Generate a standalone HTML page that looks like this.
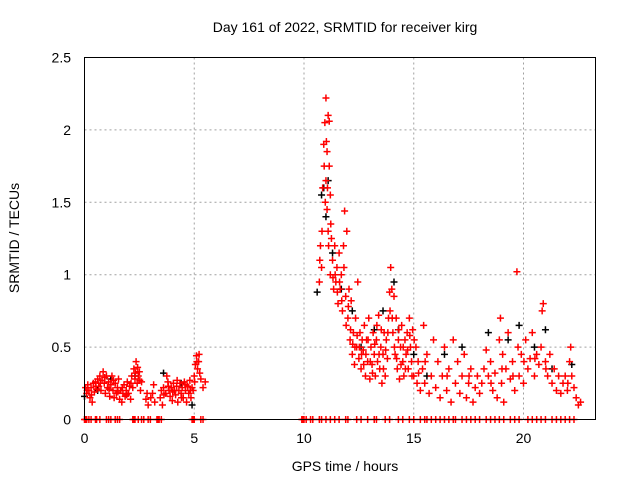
<!DOCTYPE html>
<html><head><meta charset="utf-8"><style>
body{margin:0;background:#fff}
svg{display:block}
text{font-family:"Liberation Sans",sans-serif;font-size:14px;fill:#000}
</style></head><body>
<svg id="chart" width="640" height="480">
<rect x="0" y="0" width="640" height="480" fill="#fff"/>
<text x="345" y="32" text-anchor="middle">Day 161 of 2022, SRMTID for receiver kirg</text>
<text x="345" y="471" text-anchor="middle">GPS time / hours</text>
<text transform="translate(19,238) rotate(-90)" text-anchor="middle">SRMTID / TECUs</text>
<g id="grid"></g>
<g id="ticks"></g>
<g id="black"></g>
<g id="red"></g>
<rect x="84.5" y="57.5" width="511" height="362" fill="none" stroke="#000"/>
</svg>
<script>
const xTicks=[0,5,10,15,20];
const yTicks=[0,0.5,1,1.5,2,2.5];
const yTickLabels=["0","0.5","1","1.5","2","2.5"];
const redSeries=[[0.05,.22],[0.1,.18],[0.15,.24],[0.2,.2],[0.25,.15],[0.3,.22],[0.35,.12],[0.4,.25],[0.45,.19],[0.5,.26],[0.55,.21],[0.6,.28],[0.65,.23],[0.7,.3],[0.75,.2],[0.8,.27],[0.85,.33],[0.9,.25],[0.95,.18],[1.0,.3],[1.05,.22],[1.1,.26],[1.15,.16],[1.2,.24],[1.25,.3],[1.3,.2],[1.35,.15],[1.4,.25],[1.45,.18],[1.5,.22],[1.55,.28],[1.6,.14],[1.65,.2],[1.7,.12],[1.75,.18],[1.8,.24],[1.85,.16],[1.9,.2],[1.95,.26],[2.0,.18],[2.05,.23],[2.1,.14],[2.15,.3],[2.2,.22],[2.25,.35],[2.3,.28],[2.35,.4],[2.4,.25],[2.45,.3],[2.5,.33],[2.55,.2],[2.6,.26],[2.8,.14],[2.85,.18],[2.9,.1],[3.1,.18],[3.15,.24],[3.2,.12],[3.45,.15],[3.5,.2],[3.55,.1],[3.6,.22],[3.7,.18],[3.75,.3],[3.8,.26],[3.85,.2],[3.9,.16],[3.95,.22],[4.0,.13],[4.05,.25],[4.1,.2],[4.15,.17],[4.2,.23],[4.25,.12],[4.3,.2],[4.35,.25],[4.4,.18],[4.45,.22],[4.5,.15],[4.55,.26],[4.6,.2],[4.65,.12],[4.7,.23],[4.75,.18],[4.8,.27],[4.85,.15],[4.9,.22],[4.95,.2],[5.0,.3],[5.05,.38],[5.1,.44],[5.15,.35],[5.2,.4],[5.25,.32],[5.3,.28],[5.4,.22],[5.5,.26],
[10.7,.95],[10.75,1.2],[10.8,1.05],[10.85,1.6],[10.9,1.9],[10.95,2.05],[11.0,2.22],[11.0,1.65],[11.05,1.85],[11.05,1.45],[11.1,1.3],[11.1,2.1],[11.15,2.06],[11.15,1.75],[11.2,1.55],[11.2,1.0],[11.25,1.25],[11.3,1.1],[11.35,0.9],[11.4,1.2],[11.45,0.95],[11.5,1.05],[11.55,0.8],[11.6,1.15],[11.65,0.9],[11.7,1.0],[11.75,0.75],[11.8,1.2],[11.85,1.44],[11.9,0.85],[11.95,1.3],[12.0,0.7],[12.05,0.9],[12.1,0.55],[12.15,0.82],[12.2,0.45],[12.25,0.6],[12.3,0.38],[12.35,0.7],[12.4,0.5],[12.45,0.95],[12.5,0.42],[12.55,0.6],[12.6,0.35],[12.65,0.55],[12.7,0.48],[12.75,0.65],[12.8,0.3],[12.85,0.55],[12.9,0.4],[12.95,0.7],[13.0,0.28],[13.05,0.5],[13.1,0.38],[13.15,0.6],[13.2,0.45],[13.25,0.3],[13.3,0.55],[13.35,0.4],[13.4,0.72],[13.45,0.35],[13.5,0.5],[13.55,0.25],[13.6,0.45],[13.65,0.6],[13.7,0.3],[13.75,0.55],[13.8,0.42],[13.85,0.7],[13.9,0.88],[13.95,1.05],[14.0,0.9],[14.05,0.6],[14.1,0.85],[14.15,0.45],[14.2,0.7],[14.25,0.35],[14.3,0.55],[14.35,0.28],[14.4,0.5],[14.45,0.65],[14.5,0.4],[14.55,0.3],[14.6,0.55],[14.65,0.45],[14.7,0.6],[14.75,0.35],[14.8,0.7],[14.85,0.5],[14.9,0.4],[14.95,0.62],[15.0,0.3],[15.1,0.5],[15.15,0.25],[15.2,0.4],[15.3,0.2],[15.4,0.35],[15.45,0.65],[15.5,0.25],[15.6,0.45],[15.7,0.18],[15.8,0.3],[15.9,0.55],[16.0,0.22],[16.1,0.4],[16.2,0.15],[16.3,0.3],[16.4,0.5],[16.5,0.2],[16.6,0.35],[16.7,0.12],[16.8,0.55],[16.9,0.25],[17.0,0.4],[17.1,0.18],[17.2,0.3],[17.3,0.45],[17.4,0.15],[17.5,0.25],[17.6,0.35],[17.7,0.12],[17.8,0.22],[17.9,0.3],[18.0,0.18],[18.1,0.25],[18.2,0.35],[18.3,0.48],[18.4,0.3],[18.5,0.4],[18.6,0.2],[18.7,0.32],[18.8,0.15],[18.9,0.55],[18.95,0.7],[19.0,0.25],[19.05,0.45],[19.1,0.12],[19.2,0.35],[19.3,0.6],[19.4,0.28],[19.5,0.4],[19.6,0.2],[19.7,1.02],[19.75,0.5],[19.8,0.3],[19.9,0.45],[20.0,0.25],[20.1,0.55],[20.2,0.35],[20.3,0.42],[20.4,0.6],[20.5,0.3],[20.6,0.45],[20.7,0.38],[20.8,0.5],[20.85,0.75],[20.9,0.8],[21.0,0.4],[21.1,0.3],[21.2,0.45],[21.3,0.25],[21.4,0.35],[21.5,0.2],[21.6,0.3],[21.7,0.18],[21.8,0.25],[21.9,0.3],[22.0,0.2],[22.1,0.4],[22.15,0.5],[22.2,0.3],[22.3,0.22],[22.4,0.15],[22.5,0.1],[22.6,0.12]];
const redSeriesExtra=[[0.12,.2],[0.32,.17],[0.52,.23],[0.72,.25],[0.92,.29],[1.12,.21],[1.32,.27],[1.52,.19],[1.72,.22],[1.92,.17],[2.12,.25],[2.32,.32],[2.42,.36],[2.52,.27],[3.02,.15],[3.62,.17],[3.82,.23],[4.02,.19],[4.22,.27],[4.42,.15],[4.62,.24],[4.82,.2],[5.02,.26],[5.12,.4],[5.22,.45],
[10.72,1.1],[10.82,1.3],[10.92,1.75],[10.97,1.5],[11.02,1.92],[11.07,1.6],[11.12,1.2],[11.22,1.35],[11.32,0.98],[11.42,1.0],[11.52,0.88],[11.62,0.95],[11.72,0.82],[11.82,1.05],[11.92,0.65],[12.02,0.78],[12.12,0.62],[12.22,0.52],[12.32,0.5],[12.42,0.58],[12.52,0.5],[12.62,0.45],[12.72,0.38],[12.82,0.45],[12.92,0.55],[13.02,0.4],[13.12,0.32],[13.22,0.52],[13.32,0.65],[13.42,0.45],[13.52,0.62],[13.62,0.35],[13.72,0.48],[13.82,0.6],[13.92,0.75],[14.02,0.7],[14.12,0.5],[14.22,0.42],[14.32,0.62],[14.42,0.38],[14.52,0.5],[14.62,0.35],[14.72,0.48],[14.82,0.58],[14.92,0.3],[15.02,0.55],[15.22,0.32],[15.52,0.4],[16.52,0.3],[17.52,0.3],[18.52,0.25],[19.02,0.35],[19.52,0.3],[20.02,0.4],[20.52,0.42],[21.02,0.35],[22.02,0.25]];
const blackSeries=[[0.0,.16],[0.6,.2],[1.2,.28],[2.3,.3],[3.6,.32],[4.4,.25],[4.9,.1],[10.6,.88],[10.8,1.55],[10.9,1.6],[11.0,1.4],[11.1,1.65],[11.3,1.15],[11.7,0.9],[12.2,0.75],[12.6,0.5],[13.2,0.62],[13.6,0.75],[14.1,0.95],[14.3,0.62],[15.0,0.45],[15.6,0.3],[16.4,0.45],[17.2,0.5],[18.4,0.6],[19.3,0.55],[19.8,0.65],[20.5,0.5],[21.0,0.62],[21.3,0.35],[22.2,0.38]];
const zeroHours=[0.0,0.05,0.1,0.2,0.3,0.5,0.55,0.7,1.0,1.1,1.2,1.4,1.5,1.6,2.2,2.25,2.3,2.45,2.6,2.7,2.9,3.0,3.3,3.35,3.4,3.5,4.9,4.95,5.0,5.3,5.4,9.9,9.95,10.0,10.1,10.3,10.4,10.7,10.8,11.0,11.2,11.4,11.6,11.9,12.0,12.4,12.6,12.9,13.2,13.3,13.7,13.9,14.3,14.5,14.8,15.0,15.3,15.5,15.6,15.8,16.0,16.2,16.4,16.6,16.8,16.9,17.2,17.4,17.6,17.8,18.0,18.3,18.5,18.7,18.9,19.1,19.4,19.6,19.8,20.2,20.4,20.6,20.8,21.0,21.3,21.5,21.7,21.9,22.1,22.3];
const X0=84.5,XPX=21.95,Y0=419.5,YPX=144.8;
function xs(t){return X0+t*XPX}
function ys(v){return Y0-v*YPX}
const NS="http://www.w3.org/2000/svg";
const grid=document.getElementById('grid'),ticks=document.getElementById('ticks');
function mk(tag,attrs,parent){const e=document.createElementNS(NS,tag);for(const k in attrs)e.setAttribute(k,attrs[k]);parent.appendChild(e);return e;}
xTicks.forEach(t=>{
  if(t>0){const g=mk('line',{x1:xs(t),x2:xs(t),y1:57.5,y2:419.5,stroke:'#a0a0a0','stroke-dasharray':'2,3'},grid);
  
  }
  const l=mk('text',{x:xs(t),y:443,'text-anchor':'middle'},ticks);l.textContent=t;
  
  
});
yTicks.forEach((v,i)=>{
  if(v>0&&v<2.5){const g=mk('line',{x1:84.5,x2:595.5,y1:ys(v),y2:ys(v),stroke:'#a0a0a0','stroke-dasharray':'2,3'},grid);
  
  }
  const l=mk('text',{x:71,y:ys(v)+5,'text-anchor':'end'},ticks);l.textContent=yTickLabels[i];
  
  
});
function plus(g,t,v,col){
  const x=xs(t),y=ys(v);
  const p=mk('path',{d:`M${x-3.5} ${y}h7M${x} ${y-3.5}v7`,stroke:col,'stroke-width':1.5,fill:'none'},g);
  
  
}
const bg=document.getElementById('black'),rg=document.getElementById('red');
blackSeries.forEach(d=>plus(bg,d[0],d[1],'#000'));
redSeries.forEach(d=>plus(rg,d[0],d[1],'#f00'));
redSeriesExtra.forEach(d=>plus(rg,d[0],d[1],'#f00'));
zeroHours.forEach(t=>plus(rg,t,0,'#f00'));
</script>
</body></html>
